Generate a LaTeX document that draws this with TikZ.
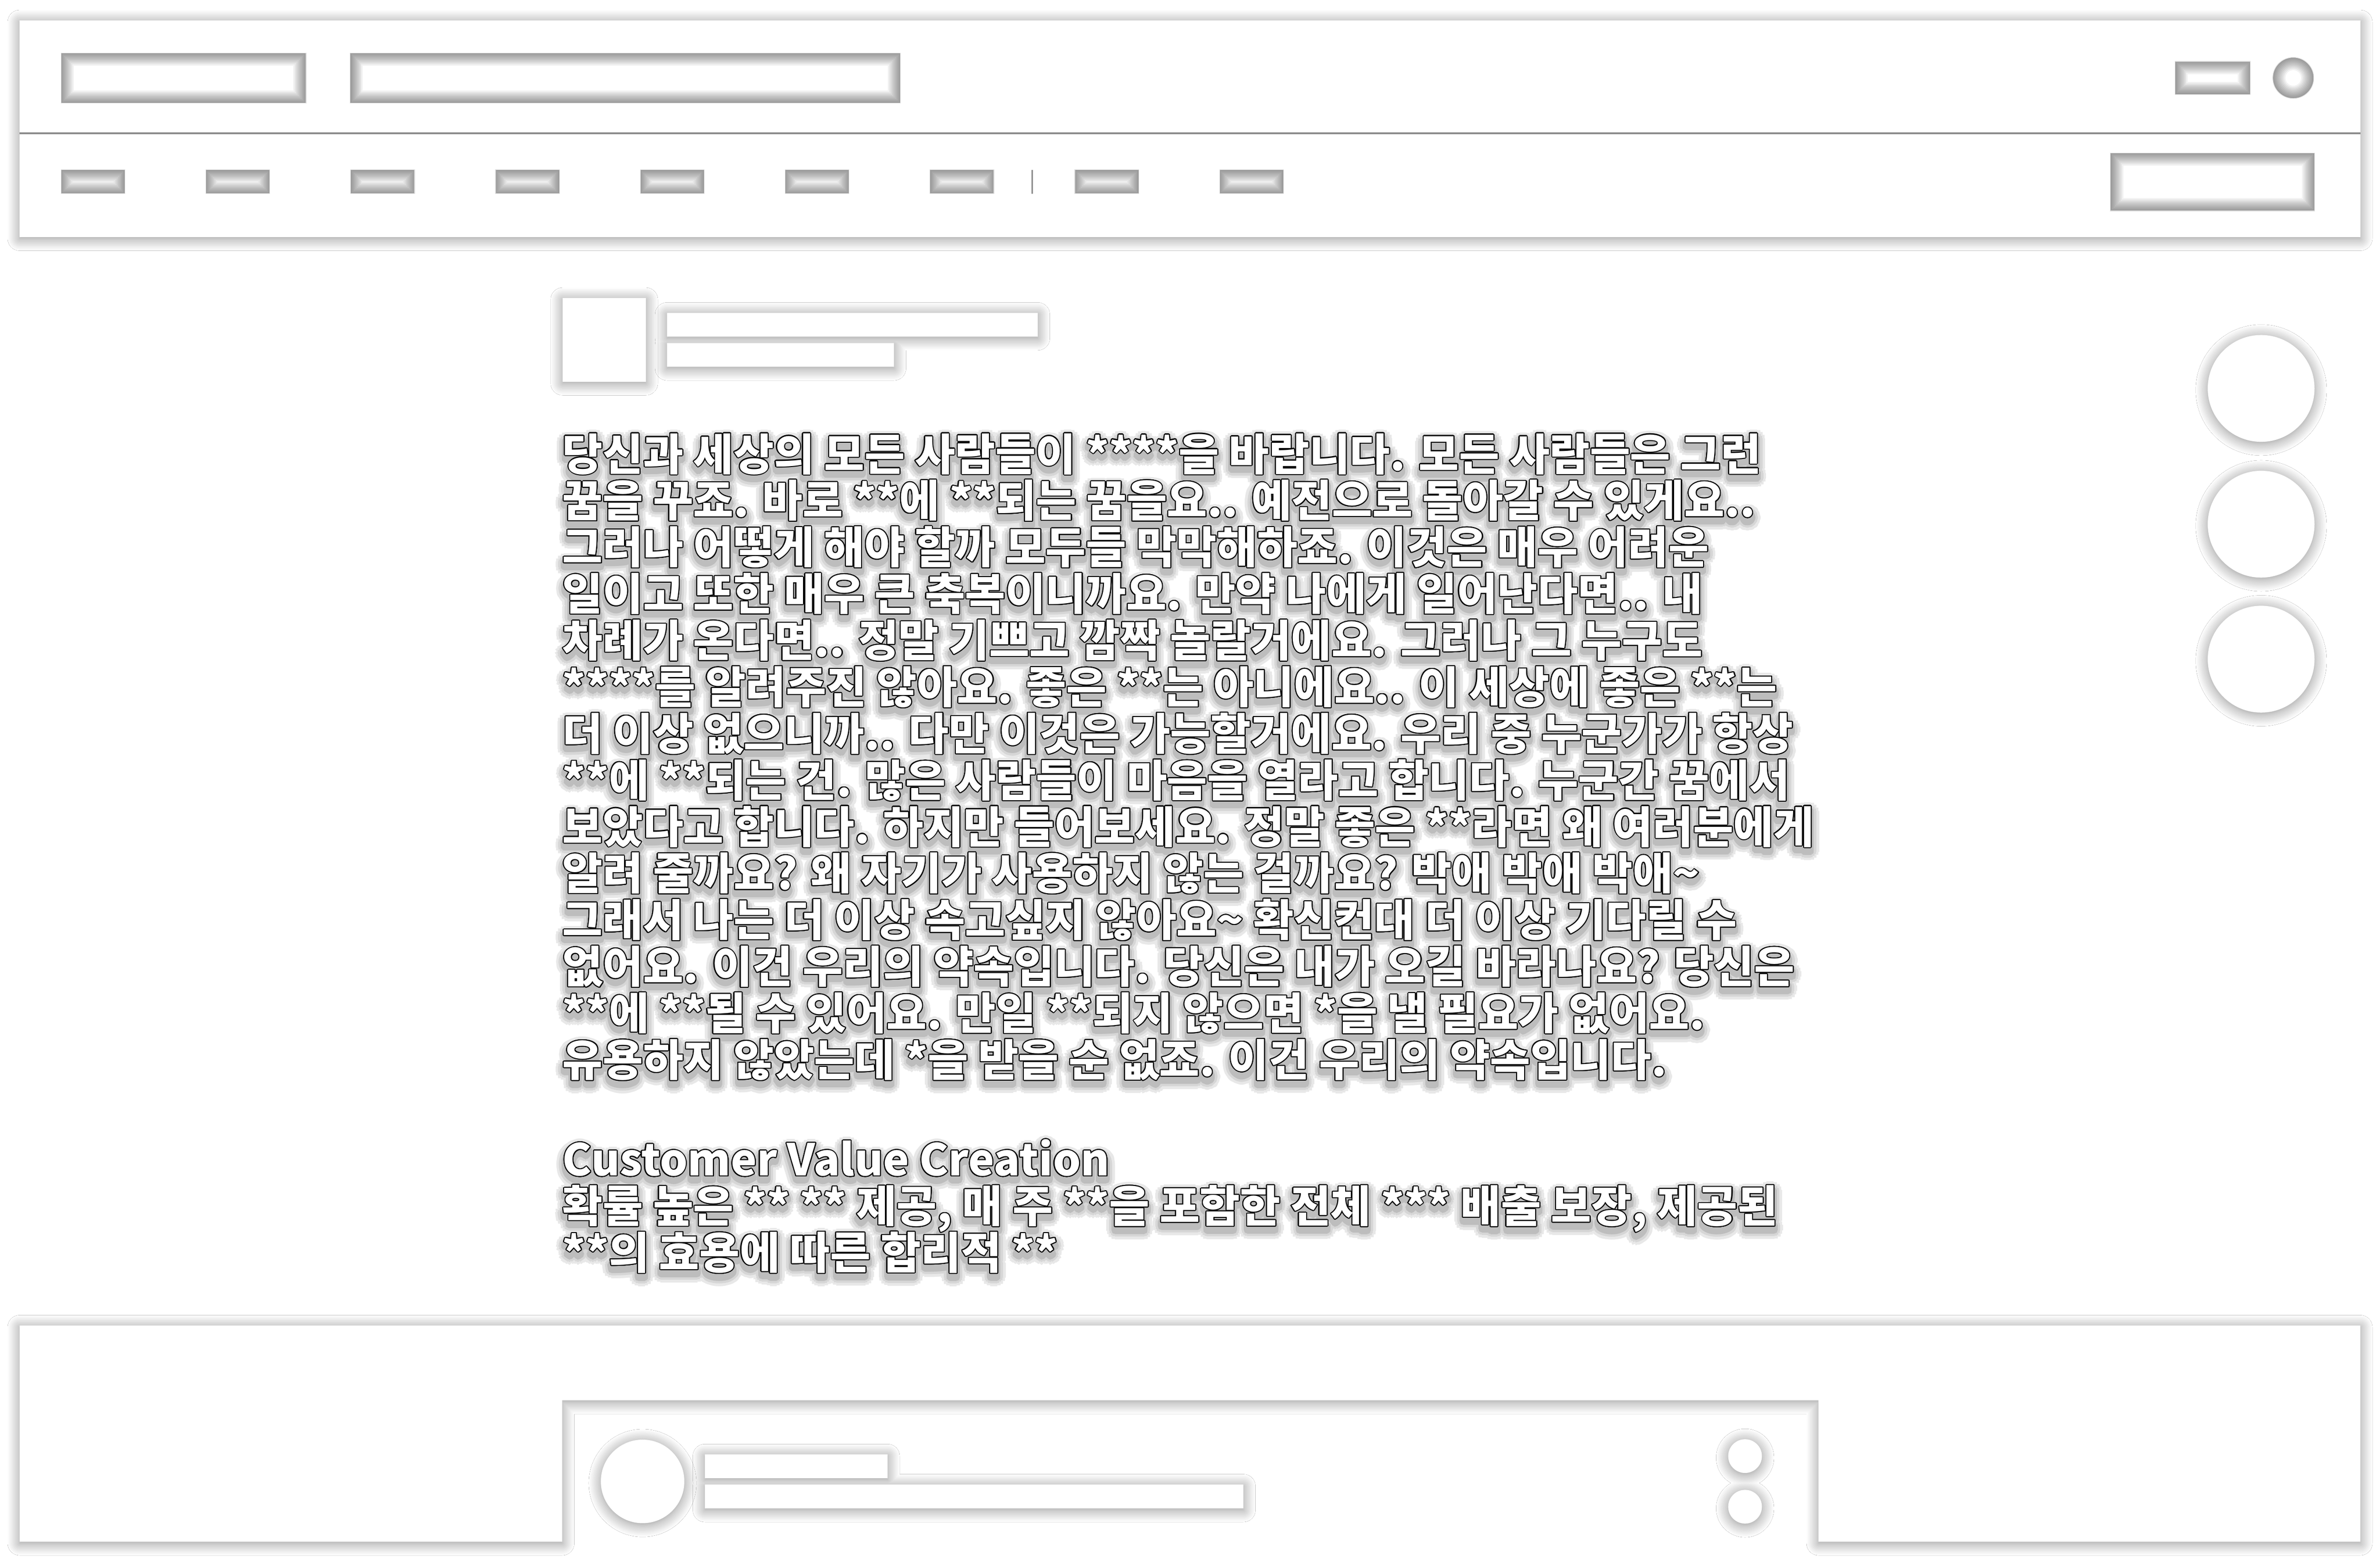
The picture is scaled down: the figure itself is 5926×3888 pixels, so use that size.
\documentclass[tikz,border=0pt]{standalone}
\usepackage{fontspec}
\setmainfont{Noto Sans CJK KR}
\usepackage{contour}
\usetikzlibrary{shadows.blur}

\tikzset{
  softshadow/.style={fill=white, blur shadow={shadow xshift=0cm, shadow yshift=-0.04cm,
      shadow blur radius=0.3cm, shadow blur steps=10, shadow opacity=45}},
  insetbox/.style={fill=white, draw=black!15, line width=0.4pt, path picture={
      \foreach \w in {2,4,...,18}
        \draw[line width=\w pt, black, opacity=0.05]
          (path picture bounding box.south west) rectangle (path picture bounding box.north east);
    }},
  insetdot/.style={fill=white, draw=black!15, line width=0.4pt, path picture={
      \foreach \w in {2,4,...,18}
        \draw[line width=\w pt, black, opacity=0.05]
          (path picture bounding box.center) circle[radius=51];
    }},
  divider/.style={line width=1.1pt, draw=black!45},
  bodytext/.style={anchor=base west, inner sep=0pt, font=\fontsize{31}{37}\selectfont\bfseries},
}

\newcommand\postlines{%
  {당신과 세상의 모든 사람들이 ****을 바랍니다. 모든 사람들은 그런},
  {꿈을 꾸죠. 바로 **에 **되는 꿈을요.. 예전으로 돌아갈 수 있게요..},
  {그러나 어떻게 해야 할까 모두들 막막해하죠. 이것은 매우 어려운},
  {일이고 또한 매우 큰 축복이니까요. 만약 나에게 일어난다면.. 내},
  {차례가 온다면.. 정말 기쁘고 깜짝 놀랄거에요. 그러나 그 누구도},
  {****를 알려주진 않아요. 좋은 **는 아니에요.. 이 세상에 좋은 **는},
  {더 이상 없으니까.. 다만 이것은 가능할거에요. 우리 중 누군가가 항상},
  {**에 **되는 건. 많은 사람들이 마음을 열라고 합니다. 누군간 꿈에서},
  {보았다고 합니다. 하지만 들어보세요. 정말 좋은 **라면 왜 여러분에게},
  {알려 줄까요? 왜 자기가 사용하지 않는 걸까요? 박애 박애 박애\textasciitilde},
  {그래서 나는 더 이상 속고싶지 않아요\textasciitilde{} 확신컨대 더 이상 기다릴 수},
  {없어요. 이건 우리의 약속입니다. 당신은 내가 오길 바라나요? 당신은},
  {**에 **될 수 있어요. 만일 **되지 않으면 *을 낼 필요가 없어요.},
  {유용하지 않았는데 *을 받을 순 없죠. 이건 우리의 약속입니다.},
  {Customer Value Creation},
  {확률 높은 ** ** 제공, 매 주 **을 포함한 전체 *** 배출 보장, 제공된},
  {**의 효용에 따른 합리적 **}%
}

\begin{document}
\begin{tikzpicture}[x=0.01cm, y=-0.01cm]
    \fill[white] (0,0) rectangle (5926,3888);
    \useasboundingbox (0,0) rectangle (5926,3888);

    % header bar
    \path[softshadow] (49,51) rectangle (5877,590);
    \draw[divider] (49,332) -- (5877,332);
    \path[insetbox] (152,132) rectangle (762,257);
    \path[insetbox] (872,132) rectangle (2242,257);
    \path[insetbox] (5416,153) rectangle (5603,235);
    \path[insetdot] (5710,194) circle[radius=51];

    % menu row
    \foreach \i in {0,...,8}
        \path[insetbox] ({152+\i*360.6},423) rectangle +(159,59);
    \draw[divider] (2570,423) -- (2570,482);
    \path[insetbox] (5255,381) rectangle (5763,525);

    % post head
    \path[softshadow] (1401,742) rectangle (1608,950);
    \path[softshadow] (1661,779) rectangle (2584,838) (1661,854) rectangle (2226,913);

    % side buttons
    \path[softshadow] (5630,967) circle[radius=133] (5630,1305) circle[radius=133]
        (5630,1641) circle[radius=133];

    % footer
    \path[softshadow] (49,3300) -- (5877,3300) -- (5877,3838) -- (4528,3838) -- (4528,3486)
        -- (1400,3486) -- (1400,3838) -- (49,3838) -- cycle;
    \path[softshadow] (1600,3688) circle[radius=104];
    \path[softshadow] (1755,3621) rectangle (2210,3680) (1755,3696) rectangle (3096,3755);
    \path[softshadow] (4345,3625) circle[radius=42] (4345,3751) circle[radius=42];

    % post text: glow layers first
    \foreach \glowlen/\tone [count=\k] in {6pt/9, 4pt/16, 2.2pt/26}{
        \contourlength{\glowlen}
        \foreach \txt [count=\i] in \postlines
            \node[bodytext, text=black!\tone] (glow\k-\i)
                at (1400, {1183+(\i-1)*116+(\i>14)*132}) {\contour{black!\tone}{\txt}};
    }
    % then the outlined text
    \contourlength{0.7pt}
    \foreach \txt [count=\i] in \postlines
        \node[bodytext, text=white] (line\i)
            at (1400, {1171+(\i-1)*116+(\i>14)*132}) {\contour{black}{\txt}};
\end{tikzpicture}
\end{document}
